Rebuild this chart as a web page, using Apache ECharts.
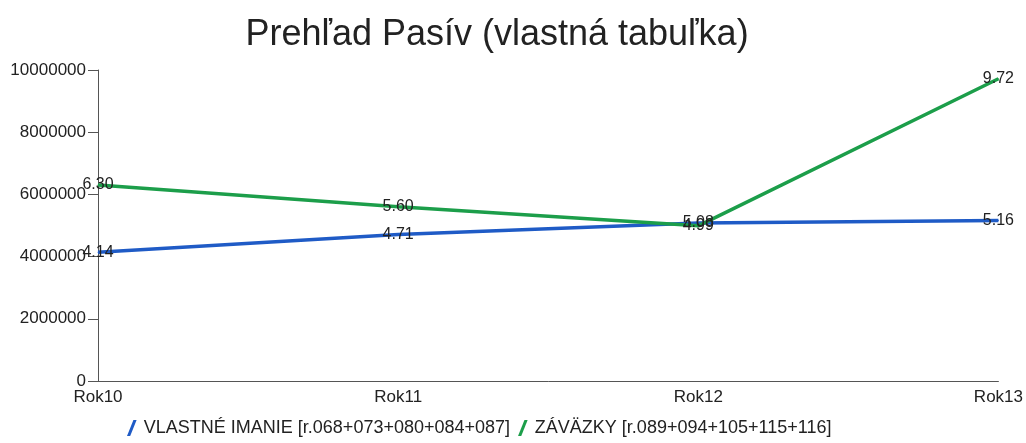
<!DOCTYPE html>
<html>
<head>
<meta charset="utf-8">
<script src="https://cdn.jsdelivr.net/npm/echarts@6/dist/echarts.min.js"></script>
<style>
html, body { margin: 0; padding: 0; background: #fff; }
#chart { width: 1026px; height: 443px; }
</style>
</head>
<body>
<div id="chart"></div>
<script>
const years = ['Rok10', 'Rok11', 'Rok12', 'Rok13'];
const vlastneImanie = [4140000, 4710000, 5080000, 5160000];
const zavazky = [6300000, 5600000, 4990000, 9720000];
const seriesNames = ['VLASTNÉ IMANIE [r.068+073+080+084+087]', 'ZÁVÄZKY [r.089+094+105+115+116]'];

const font = 'Liberation Sans, Arial, sans-serif';
const slash = 'path://M3,10 L7,0 L9,0 L5,10 Z';

let chart = echarts.init(document.getElementById('chart'));

let makeSeries = (name, data, color) => ({
	name,
	type: 'line',
	data,
	symbol: 'circle',
	symbolSize: 1,
	itemStyle: {color},
	lineStyle: {color, width: 3.5},
	label: {
		show: true,
		position: 'inside',
		color: '#222',
		fontFamily: font,
		fontSize: 16,
		formatter: (p) => (p.value / 1000000).toFixed(2),
	},
	emphasis: {disabled: true},
	animation: false,
});

chart.setOption({
	backgroundColor: '#fff',
	title: {
		text: 'Prehľad Pasív (vlastná tabuľka)',
		left: 492,
		textAlign: 'center',
		top: 12,
		textStyle: {fontFamily: font, fontSize: 36, fontWeight: 'normal', color: '#222'},
	},
	grid: {left: 98, right: 24, top: 70, bottom: 62},
	legend: {
		bottom: 1,
		left: 122,
		itemWidth: 14,
		itemHeight: 16,
		itemGap: 8,
		textStyle: {fontFamily: font, fontSize: 18, color: '#222'},
		data: [
			{name: seriesNames[0], icon: slash},
			{name: seriesNames[1], icon: slash},
		],
	},
	xAxis: {
		type: 'category',
		data: years,
		boundaryGap: false,
		axisLine: {lineStyle: {color: '#555', width: 1}},
		axisTick: {show: false},
		axisLabel: {fontFamily: font, fontSize: 17, color: '#222', margin: 8},
		splitLine: {show: false},
	},
	yAxis: {
		type: 'value',
		min: 0,
		max: 10000000,
		interval: 2000000,
		axisLine: {show: true, lineStyle: {color: '#555', width: 1}},
		axisTick: {show: true, length: 10, lineStyle: {color: '#555'}},
		axisLabel: {fontFamily: font, fontSize: 17, color: '#222', margin: 12, formatter: (v) => String(v)},
		splitLine: {show: false},
	},
	series: [
		makeSeries(seriesNames[0], vlastneImanie, '#1f5bc6'),
		makeSeries(seriesNames[1], zavazky, '#1c9e4a'),
	],
});
</script>
</body>
</html>
